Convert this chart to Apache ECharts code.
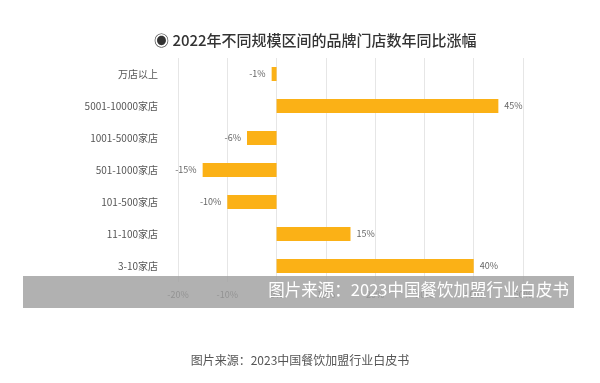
<!DOCTYPE html>
<html><head><meta charset="utf-8">
<script src="https://cdn.jsdelivr.net/npm/echarts@6/dist/echarts.min.js"></script>
<style>html,body{margin:0;padding:0;background:#fff}#c{width:600px;height:383px}</style>
</head><body><div id="c"></div>
<script>
const categories = ['3-10家店','11-100家店','101-500家店','501-1000家店','1001-5000家店','5001-10000家店','万店以上'];
const values = [40, 15, -10, -15, -6, 45, -1];
const tickValues = [-20, -10, 0, 10, 20, 30, 40, 50];
const titleText = '◉ 2022年不同规模区间的品牌门店数年同比涨幅';
const sourceText = '图片来源：2023中国餐饮加盟行业白皮书';

const chart = echarts.init(document.getElementById('c'), null, {renderer:'canvas'});
chart.setOption({
  animation: false,
  backgroundColor: '#fff',
  title: {
    text: titleText, left: 149, top: 28,
    textStyle: {fontSize: 15, fontWeight: 500, color: '#333', fontFamily: 'Noto Sans CJK SC'}
  },
  grid: {left: 178, right: 77, top: 58, bottom: 101},
  xAxis: {
    type: 'value', min: -20, max: 50, interval: 10,
    axisLine: {show: false}, axisTick: {show: false},
    splitLine: {lineStyle: {color: '#e6e6e6', width: 1}},
    axisLabel: {formatter: v => v + '%', color: '#555', fontSize: 9, margin: 8, fontFamily: 'Noto Sans CJK SC'}
  },
  yAxis: {
    type: 'category', data: categories,
    axisLine: {show: false}, axisTick: {show: false},
    axisLabel: {color: '#555', fontSize: 10, margin: 20, fontFamily: 'Noto Sans CJK SC'}
  },
  series: [{
    type: 'bar', barWidth: 14,
    data: values.map(v => v < 0 ? {value: v, label: {position: 'left'}} : v),
    itemStyle: {color: '#fbb116'},
    label: {show: true, position: 'right', formatter: p => p.value + '%', color: '#666', fontSize: 9, distance: 6,
      fontFamily: 'Noto Sans CJK SC'}
  }],
  graphic: [
    {type: 'rect', z: 100, shape: {x: 23, y: 276, width: 551, height: 32}, style: {fill: 'rgba(160,160,160,0.82)'}},
    {type: 'text', z: 101, right: 31, top: 281, style: {text: sourceText, fill: '#fff', fontSize: 16.5, fontFamily: 'Noto Sans CJK SC'}},
    {type: 'text', z: 101, left: 'center', top: 354, style: {text: sourceText, fill: '#555', fontSize: 12, fontFamily: 'Noto Sans CJK SC'}}
  ]
});
</script></body></html>
